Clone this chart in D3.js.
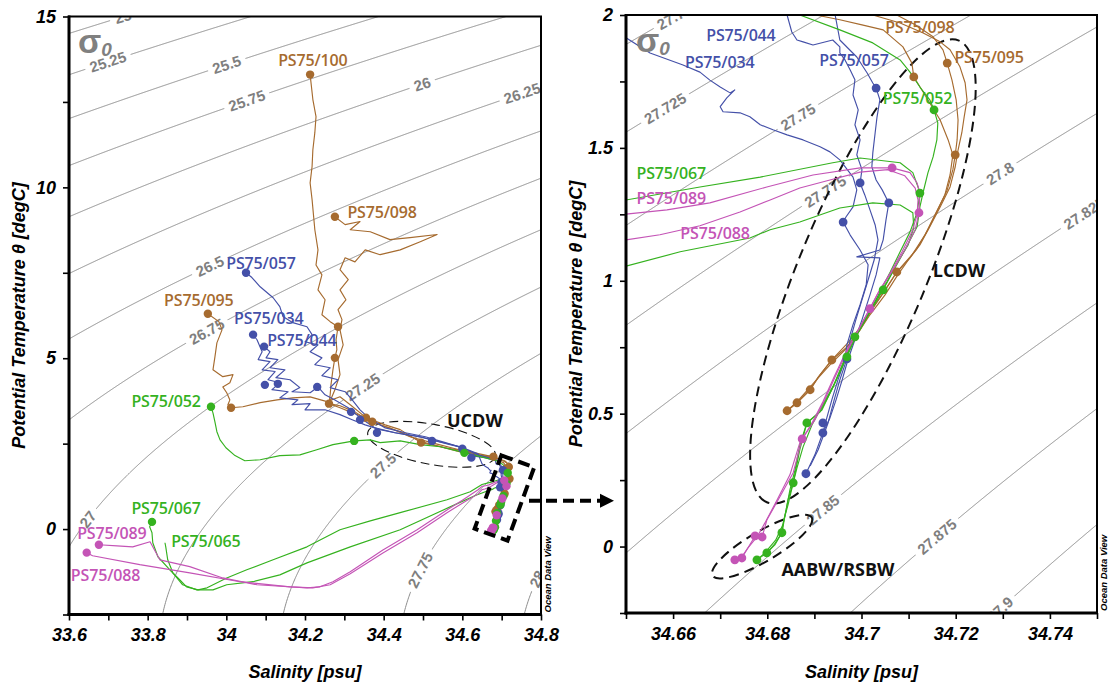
<!DOCTYPE html>
<html>
<head>
<meta charset="utf-8">
<script src="https://cdn.jsdelivr.net/npm/d3@7"></script>
<style>
  body { margin: 0; background: #fff; }
  svg { display: block; }
</style>
</head>
<body>
<svg id="chart" width="1109" height="686"></svg>
<script>
// ---------------------------------------------------------------
// Potential temperature / salinity profiles, PS75 stations
// Each profile is [salinity (psu), potential temperature (degC)]
// ---------------------------------------------------------------

// Station PS75/100
const ctd100 = [[34.213,13.30],[34.220,12.57],[34.228,12.07],[34.225,11.60],[34.220,11.10],[34.218,10.61],[34.213,10.13],[34.218,9.64],[34.225,8.76],[34.233,8.17],[34.228,7.73],[34.243,7.44],[34.233,7.00],[34.251,6.71],[34.243,6.27],[34.264,6.07],[34.284,5.92],[34.279,5.54],[34.281,5.25],[34.276,5.01],[34.271,4.66],[34.266,4.22],[34.264,3.93],[34.261,3.67],[34.289,3.55],[34.315,3.43],[34.355,3.26],[34.404,3.05],[34.442,2.91],[34.495,2.53],[34.544,2.41],[34.595,2.26],[34.646,2.15],[34.679,2.12],[34.696,2.03],
  [34.7024,2.000],[34.7082,1.970],[34.7131,1.932],[34.7167,1.899],[34.7188,1.869],[34.7209,1.805],[34.7220,1.745],[34.7224,1.681],[34.7218,1.617],[34.7213,1.557],[34.7205,1.492],[34.7199,1.429],[34.7188,1.353],[34.7167,1.278],[34.7145,1.203],[34.7124,1.135],[34.7103,1.086],[34.7075,1.033],[34.7050,0.966],[34.7022,0.891],[34.6997,0.815],[34.6967,0.747],[34.6937,0.702],[34.6912,0.646],[34.6891,0.590],[34.6863,0.541],[34.6842,0.511]];
const btl100 = [[34.213,13.30],[34.284,5.92],[34.276,5.01],[34.371,3.14],[34.679,2.12],[34.7075,1.033],[34.6891,0.590],[34.6842,0.511]];

// Station PS75/098
const ctd098 = [[34.276,9.14],[34.302,8.91],[34.340,9.00],[34.315,8.76],[34.366,8.70],[34.416,8.47],[34.467,8.53],[34.536,8.62],[34.493,8.41],[34.442,8.17],[34.391,8.03],[34.353,8.17],[34.327,7.82],[34.302,7.94],[34.289,7.59],[34.310,7.30],[34.289,7.00],[34.304,6.71],[34.284,6.42],[34.294,6.13],[34.289,5.83],[34.297,5.39],[34.284,4.95],[34.289,4.52],[34.276,4.08],[34.261,3.67],[34.289,3.61],[34.327,3.43],[34.366,3.14],[34.416,2.96],[34.467,2.70],[34.531,2.50],[34.582,2.35],[34.633,2.20],[34.671,2.09],
  [34.6903,2.000],[34.6954,1.982],[34.7001,1.963],[34.7046,1.944],[34.7088,1.880],[34.7107,1.819],[34.7111,1.767],[34.7124,1.730],[34.7145,1.669],[34.7167,1.605],[34.7184,1.530],[34.7194,1.474],[34.7188,1.398],[34.7177,1.323],[34.7156,1.248],[34.7135,1.173],[34.7107,1.097],[34.7077,1.022],[34.7050,0.947],[34.7018,0.872],[34.6990,0.797],[34.6965,0.740],[34.6933,0.684],[34.6908,0.635],[34.6886,0.590],[34.6863,0.544],[34.6842,0.511]];
const btl098 = [[34.276,9.14],[34.261,3.67],[34.495,2.53],[34.7111,1.767],[34.6937,0.702],[34.6863,0.541]];

// Station PS75/095
const ctd095 = [[33.953,6.30],[33.981,6.07],[33.989,5.83],[33.976,5.45],[33.971,5.04],[33.966,4.66],[33.991,4.46],[34.017,4.52],[34.009,4.28],[33.991,4.16],[34.001,3.99],[34.009,3.78],[34.004,3.64],[34.012,3.55],[34.042,3.58],[34.086,3.70],[34.129,3.78],[34.169,3.84],[34.213,3.87],[34.256,3.73],[34.289,3.87],[34.315,3.64],[34.355,3.26],[34.391,3.05],[34.442,2.85],[34.495,2.56],[34.556,2.38],[34.620,2.26],[34.676,2.12],
  [34.7075,2.000],[34.7114,1.963],[34.7152,1.918],[34.7173,1.869],[34.7182,1.819],[34.7192,1.756],[34.7201,1.681],[34.7205,1.605],[34.7203,1.530],[34.7199,1.474],[34.7194,1.418],[34.7182,1.342],[34.7162,1.267],[34.7141,1.192],[34.7116,1.116],[34.7092,1.067],[34.7075,1.033],[34.7048,0.958],[34.7018,0.883],[34.6993,0.815],[34.6971,0.766],[34.6937,0.702],[34.6908,0.638],[34.6891,0.590],[34.6863,0.541],[34.6842,0.511]];
const btl095 = [[33.953,6.30],[34.012,3.55],[34.355,3.26],[34.7182,1.819],[34.7199,1.474]];

// Station PS75/057
const ctd057 = [[34.050,7.50],[34.065,7.36],[34.086,7.09],[34.119,6.77],[34.136,6.51],[34.144,6.22],[34.169,6.04],[34.205,5.92],[34.218,5.69],[34.200,5.48],[34.233,5.39],[34.213,5.19],[34.243,5.01],[34.225,4.81],[34.264,4.72],[34.243,4.49],[34.284,4.37],[34.264,4.14],[34.302,4.02],[34.320,3.78],[34.340,3.49],[34.361,3.26],[34.404,2.96],[34.455,2.82],[34.506,2.70],[34.557,2.53],[34.600,2.38],[34.640,2.17],
  [34.6944,2.000],[34.6954,1.906],[34.6990,1.842],[34.7012,1.782],[34.7024,1.744],[34.7031,1.725],[34.7039,1.681],[34.7033,1.617],[34.7029,1.557],[34.7024,1.481],[34.7022,1.429],[34.7031,1.379],[34.7044,1.342],[34.7058,1.293],[34.7052,1.229],[34.7046,1.154],[34.7039,1.116],[34.6990,1.090],[34.7039,1.086],[34.7031,1.022],[34.7018,0.947],[34.7001,0.853],[34.6986,0.778],[34.6971,0.702],[34.6959,0.627],[34.6946,0.552],[34.6933,0.484],[34.6918,0.428]];
const btl057 = [[34.050,7.50],[34.131,4.25],[34.340,3.20],[34.523,2.58],[34.623,2.09],[34.7031,1.725],[34.7058,1.293],[34.6918,0.428]];

// Station PS75/034
const ctd034 = [[34.068,5.69],[34.078,5.54],[34.091,5.19],[34.081,4.96],[34.111,4.90],[34.091,4.66],[34.124,4.61],[34.106,4.37],[34.136,4.28],[34.116,4.08],[34.157,4.02],[34.136,3.84],[34.182,3.78],[34.167,3.64],[34.213,3.67],[34.200,3.49],[34.251,3.49],[34.289,3.35],[34.320,3.20],[34.353,3.05],[34.391,2.91],[34.442,2.79],[34.493,2.70],[34.544,2.55],[34.595,2.41],[34.640,2.20],
  [34.6500,1.914],[34.6551,1.857],[34.6621,1.812],[34.6657,1.785],[34.6678,1.755],[34.6700,1.729],[34.6721,1.707],[34.6731,1.718],[34.6714,1.688],[34.6700,1.655],[34.6706,1.636],[34.6742,1.632],[34.6763,1.617],[34.6785,1.587],[34.6812,1.568],[34.6842,1.549],[34.6876,1.530],[34.6912,1.504],[34.6933,1.485],[34.6954,1.455],[34.6982,1.390],[34.6990,1.342],[34.6982,1.278],[34.6967,1.240],[34.6961,1.221],[34.6976,1.172],[34.6997,1.116],[34.7014,1.060],[34.7010,0.985],[34.6997,0.910],[34.6982,0.835],[34.6969,0.759],[34.6965,0.702],[34.6950,0.627],[34.6937,0.552],[34.6925,0.476],[34.6918,0.428],[34.6901,0.345],[34.6882,0.274]];
const btl034 = [[34.068,5.69],[34.098,4.22],[34.317,3.43],[34.383,2.82],[34.600,2.35],[34.6961,1.221],[34.6882,0.274]];

// Station PS75/044
const ctd044 = [[34.096,5.34],[34.111,5.19],[34.101,5.01],[34.131,4.96],[34.111,4.72],[34.149,4.66],[34.126,4.43],[34.162,4.37],[34.187,4.14],[34.167,4.02],[34.213,3.99],[34.233,4.16],[34.251,3.93],[34.276,3.78],[34.310,3.55],[34.340,3.26],[34.378,2.96],[34.429,2.82],[34.480,2.73],[34.523,2.61],[34.569,2.47],[34.600,2.38],[34.625,2.14],[34.658,2.09],
  [34.6842,2.000],[34.6852,1.936],[34.6863,1.906],[34.6876,1.899],[34.6897,1.887],[34.6939,1.906],[34.6954,1.880],[34.6954,1.857],[34.6965,1.831],[34.6976,1.793],[34.6986,1.756],[34.6982,1.699],[34.6993,1.643],[34.6986,1.587],[34.6997,1.530],[34.6990,1.474],[34.7001,1.418],[34.6997,1.368],[34.7007,1.323],[34.7018,1.267],[34.7029,1.210],[34.7035,1.154],[34.7027,1.079],[34.7014,1.003],[34.7001,0.928],[34.6988,0.853],[34.6976,0.778],[34.6969,0.706],[34.6954,0.627],[34.6942,0.552],[34.6929,0.465],[34.6908,0.364],[34.6891,0.303]];
const btl044 = [[34.096,5.34],[34.231,4.16],[34.6997,1.368],[34.6969,0.706],[34.6918,0.465]];

// Station PS75/052
const ctd052 = [[33.961,3.58],[33.966,3.40],[33.971,3.14],[33.976,2.85],[33.984,2.61],[33.999,2.38],[34.022,2.15],[34.047,2.00],[34.086,2.03],[34.136,2.15],[34.187,2.17],[34.230,2.32],[34.271,2.47],[34.325,2.58],[34.366,2.61],[34.391,2.53],[34.442,2.58],[34.493,2.47],[34.544,2.41],[34.587,2.29],[34.605,2.23],[34.646,2.12],
  [34.6869,2.000],[34.6954,1.944],[34.7024,1.895],[34.7082,1.831],[34.7103,1.785],[34.7124,1.729],[34.7145,1.681],[34.7154,1.643],[34.7162,1.594],[34.7160,1.530],[34.7152,1.466],[34.7141,1.406],[34.7131,1.334],[34.7124,1.278],[34.7118,1.203],[34.7092,1.116],[34.7071,1.048],[34.7046,0.966],[34.7018,0.883],[34.6988,0.789],[34.6969,0.714],[34.6944,0.617],[34.6916,0.514],[34.6884,0.465],[34.6869,0.364],[34.6855,0.240],[34.6844,0.157],[34.6835,0.100],[34.6831,0.052],[34.6814,0.006],[34.6799,-0.024],[34.6778,-0.050]];
const btl052 = [[33.961,3.58],[34.325,2.58],[34.605,2.23],[34.7154,1.643],[34.7046,0.966],[34.6969,0.714],[34.6831,0.052]];

// Station PS75/067
const ctd067 = [[33.811,0.21],[33.805,0.07],[33.811,-0.11],[33.813,-0.40],[33.826,-0.81],[33.856,-1.19],[33.882,-1.49],[33.899,-1.69],[33.928,-1.78],[33.951,-1.72],[34.001,-1.43],[34.052,-1.19],[34.119,-0.90],[34.205,-0.52],[34.289,-0.02],[34.366,0.24],[34.442,0.48],[34.561,0.86],[34.620,1.09],
  [34.6500,1.304],[34.6657,1.353],[34.6785,1.390],[34.6939,1.444],[34.6997,1.462],[34.7082,1.444],[34.7109,1.407],[34.7120,1.353],[34.7124,1.330],[34.7118,1.256],[34.7103,1.184],[34.7082,1.109],[34.7061,1.033],[34.7039,0.958],[34.7014,0.872],[34.6986,0.789],[34.6965,0.702],[34.6944,0.617],[34.6918,0.534],[34.6895,0.458],[34.6876,0.375],[34.6863,0.296],[34.6855,0.240],[34.6844,0.176],[34.6838,0.120],[34.6831,0.052],[34.6816,0.006],[34.6799,-0.024]];
const btl067 = [[33.811,0.21],[34.7124,1.330],[34.6986,0.789],[34.6855,0.240],[34.6799,-0.024]];

// Station PS75/065
const ctd065 = [[33.844,-0.40],[33.846,-0.52],[33.851,-0.90],[33.864,-1.28],[33.889,-1.63],[33.925,-1.78],[33.966,-1.78],[34.001,-1.63],[34.068,-1.54],[34.136,-1.34],[34.205,-0.99],[34.315,-0.52],[34.442,-0.02],[34.569,0.65],[34.633,0.98],
  [34.6500,1.055],[34.6615,1.109],[34.6763,1.161],[34.6806,1.192],[34.6869,1.221],[34.6954,1.274],[34.7024,1.293],[34.7082,1.285],[34.7109,1.256],[34.7111,1.199],[34.7099,1.135],[34.7077,1.071],[34.7054,0.996],[34.7029,0.921],[34.7003,0.846],[34.6980,0.770],[34.6959,0.684],[34.6937,0.590],[34.6912,0.507],[34.6884,0.465],[34.6869,0.382],[34.6859,0.289],[34.6848,0.213],[34.6840,0.138],[34.6833,0.082],[34.6818,0.025],[34.6795,-0.024],[34.6778,-0.050]];
const btl065 = [[34.6884,0.465],[34.6778,-0.050]];

// Station PS75/089
const ctd089 = [[33.676,-0.46],[33.722,-0.49],[33.762,-0.52],[33.806,-0.37],[33.831,-0.90],[33.907,-1.10],[33.991,-1.43],[34.078,-1.63],[34.205,-1.72],[34.238,-1.69],[34.271,-1.54],[34.315,-1.25],[34.398,-0.61],[34.485,-0.02],[34.561,0.56],[34.602,0.86],[34.640,1.15],
  [34.6500,1.251],[34.6587,1.267],[34.6678,1.293],[34.6799,1.353],[34.6897,1.398],[34.6997,1.425],[34.7065,1.425],[34.7103,1.407],[34.7118,1.368],[34.7124,1.330],[34.7122,1.256],[34.7114,1.192],[34.7092,1.116],[34.7067,1.041],[34.7039,0.966],[34.7018,0.895],[34.6997,0.827],[34.6971,0.740],[34.6946,0.646],[34.6922,0.552],[34.6901,0.476],[34.6874,0.405],[34.6855,0.278],[34.6827,0.188],[34.6799,0.100],[34.6789,0.036],[34.6774,0.040],[34.6746,-0.043],[34.6731,-0.050]];
const btl089 = [[33.676,-0.46],[34.7065,1.425],[34.7018,0.895],[34.6789,0.036],[34.6746,-0.043]];

// Station PS75/088
const ctd088 = [[33.645,-0.69],[33.660,-0.78],[33.780,-1.04],[33.907,-1.28],[34.035,-1.54],[34.162,-1.69],[34.220,-1.72],[34.264,-1.63],[34.315,-1.31],[34.398,-0.70],[34.485,-0.11],[34.561,0.48],[34.602,0.77],[34.640,1.03],
  [34.6500,1.154],[34.6572,1.173],[34.6657,1.207],[34.6742,1.259],[34.6806,1.304],[34.6869,1.349],[34.6933,1.379],[34.6997,1.409],[34.7056,1.418],[34.7092,1.395],[34.7114,1.349],[34.7120,1.304],[34.7118,1.248],[34.7107,1.184],[34.7086,1.109],[34.7061,1.029],[34.7035,0.954],[34.7014,0.883],[34.6993,0.815],[34.6967,0.733],[34.6942,0.639],[34.6918,0.545],[34.6895,0.465],[34.6869,0.390],[34.6848,0.270],[34.6821,0.176],[34.6795,0.089],[34.6778,0.036],[34.6759,-0.005],[34.6744,-0.043]];
const btl088 = [[33.645,-0.69],[34.7122,1.256],[34.6874,0.405],[34.6774,0.040],[34.6731,-0.050]];

// Station names and label anchors [S, theta] in each panel
const stationNames = ["PS75/100","PS75/098","PS75/095","PS75/057","PS75/034","PS75/044","PS75/052","PS75/067","PS75/065","PS75/089","PS75/088"];
const stationGroups = ["brown","brown","brown","blue","blue","blue","green","green","green","magenta","magenta"];
const wideLabelPos = [[34.220,13.73],[34.396,9.26],[33.930,6.71],[34.088,7.79],[34.108,6.17],[34.192,5.52],[33.847,3.73],[33.847,0.62],[33.948,-0.37],[33.709,-0.11],[33.693,-1.34]];
const zoomLabelPos = [null,[34.7124,1.955],[34.7271,1.842],[34.6984,1.831],[34.6699,1.824],[34.6744,1.925],[34.7119,1.688],[34.6596,1.406],null,[34.6596,1.312],[34.6689,1.180]];

// Isopycnal levels (sigma-0) and where along salinity their labels sit
const sigmaLevelsWide = [24.75,25,25.25,25.5,25.75,26,26.25,26.5,26.75,27,27.25,27.5,27.75,28,28.25];
const sigmaLabelsWide = [[25,33.737],[25.25,33.699],[25.5,34.001],[25.75,34.052],[26,34.498],[26.25,34.752],[26.5,33.958],[26.75,33.950],[27,33.648],[27.25,34.347],[27.5,34.398],[27.75,34.493],[28,34.790]];
const sigmaLevelsZoom = [27.675,27.7,27.725,27.75,27.775,27.8,27.825,27.85,27.875,27.9,27.925];
const sigmaLabelsZoom = [[27.7,34.6595],[27.725,34.6583],[27.75,34.6865],[27.775,34.6923],[27.8,34.7294],[27.825,34.7473],[27.85,34.6918],[27.875,34.7160],[27.9,34.7294]];

// Axis ticks and tick labels
const wideSalTicks = [33.6,33.7,33.8,33.9,34.0,34.1,34.2,34.3,34.4,34.5,34.6,34.7,34.8];
const wideSalLabels = ["33.6","","33.8","","34","","34.2","","34.4","","34.6","","34.8"];
const wideTempTicks = [-2.5,0,2.5,5,7.5,10,12.5,15];
const wideTempLabels = ["","0","","5","","10","","15"];
const zoomSalTicks = [34.65,34.66,34.67,34.68,34.69,34.70,34.71,34.72,34.73,34.74,34.75];
const zoomSalLabels = ["","34.66","","34.68","","34.7","","34.72","","34.74",""];
const zoomTempTicks = [-0.25,0,0.25,0.5,0.75,1,1.25,1.5,1.75,2];
const zoomTempLabels = ["","0","","0.5","","1","","1.5","","2"];

// Water mass annotations [S, theta]
const ucdwCenter = [34.522, 2.48];
const ucdwLabel = [34.632, 3.17];
const boxCenter = [34.707, 0.91];
const lcdwCenter = [34.7003, 1.035];
const lcdwLabel = [34.7207, 1.039];
const aabwCenter = [34.6789, 0.0];
const aabwLabel = [34.6950, -0.088];

// ---------------------------------------------------------------
const ctds = [ctd100, ctd098, ctd095, ctd057, ctd034, ctd044, ctd052, ctd067, ctd065, ctd089, ctd088];
const btls = [btl100, btl098, btl095, btl057, btl034, btl044, btl052, btl067, btl065, btl089, btl088];
const palette = { brown: "#a66b2f", blue: "#4450a8", green: "#35b21f", magenta: "#c454b6" };

// Density of seawater at the surface (UNESCO EOS-80), minus 1000
function sigma0(S, T) {
  const T2 = T * T, T3 = T2 * T, T4 = T3 * T, T5 = T4 * T;
  const rw = 999.842594 + 6.793952e-2 * T - 9.095290e-3 * T2 + 1.001685e-4 * T3 - 1.120083e-6 * T4 + 6.536332e-9 * T5;
  const A = 0.824493 - 4.0899e-3 * T + 7.6438e-5 * T2 - 8.2467e-7 * T3 + 5.3875e-9 * T4;
  const B = -5.72466e-3 + 1.0227e-4 * T - 1.6546e-6 * T2;
  return rw + A * S + B * S * Math.sqrt(S) + 4.8314e-4 * S * S - 1000;
}
// Temperature on an isopycnal at a given salinity (bisection)
function solveT(S, level) {
  let lo = -3.5, hi = 35;
  if (sigma0(S, lo) < level || sigma0(S, hi) > level) return null;
  for (let i = 0; i < 60; i++) {
    const mid = (lo + hi) / 2;
    if (sigma0(S, mid) > level) lo = mid; else hi = mid;
  }
  return (lo + hi) / 2;
}

const svg = d3.select("#chart");
const defs = svg.append("defs");
const tickFont = "'Liberation Sans', Arial, sans-serif";

const panels = [
  { id: "wide", left: 69, right: 541, top: 16.5, bottom: 614.5,
    sDomain: [33.6, 34.8], tDomain: [-2.5, 15],
    levels: sigmaLevelsWide, labels: sigmaLabelsWide,
    sTicks: wideSalTicks, sLabels: wideSalLabels, tTicks: wideTempTicks, tLabels: wideTempLabels,
    labelPos: wideLabelPos, dotR: 4.2, sigmaAt: [78, 53] },
  { id: "zoom", left: 626, right: 1097, top: 15, bottom: 613,
    sDomain: [34.65, 34.75], tDomain: [-0.25, 2],
    levels: sigmaLevelsZoom, labels: sigmaLabelsZoom,
    sTicks: zoomSalTicks, sLabels: zoomSalLabels, tTicks: zoomTempTicks, tLabels: zoomTempLabels,
    labelPos: zoomLabelPos, dotR: 4.4, sigmaAt: [636, 52] }
];

panels.forEach(p => {
  const x = d3.scaleLinear().domain(p.sDomain).range([p.left, p.right]);
  const y = d3.scaleLinear().domain(p.tDomain).range([p.bottom, p.top]);
  p.x = x; p.y = y;
  const clipId = "clip-" + p.id;
  defs.append("clipPath").attr("id", clipId).append("rect")
    .attr("x", p.left).attr("y", p.top).attr("width", p.right - p.left).attr("height", p.bottom - p.top);

  const g = svg.append("g");
  const plot = g.append("g").attr("clip-path", `url(#${clipId})`);

  // isopycnals
  const isoLine = d3.line().defined(d => d[1] !== null).x(d => x(d[0])).y(d => y(d[1]));
  p.levels.forEach(level => {
    const pts = [];
    for (let px = p.left - 2; px <= p.right + 2; px += 0.5) {
      const S = x.invert(px);
      pts.push([S, solveT(S, level)]);
    }
    plot.append("path").attr("d", isoLine(pts))
      .attr("fill", "none").attr("stroke", "#8c8c8c").attr("stroke-width", 1);
  });

  // isopycnal labels, set along the line
  const dS = (p.sDomain[1] - p.sDomain[0]) * 0.004;
  p.labels.forEach(([level, S]) => {
    const T = solveT(S, level);
    const a = [x(S - dS), y(solveT(S - dS, level))];
    const b = [x(S + dS), y(solveT(S + dS, level))];
    const ang = Math.atan2(b[1] - a[1], b[0] - a[0]) * 180 / Math.PI;
    const lg = plot.append("g").attr("transform", `translate(${x(S)},${y(T)}) rotate(${ang})`);
    const bg = lg.append("rect").attr("fill", "#fff");
    const t = lg.append("text").text(String(level))
      .attr("text-anchor", "middle").attr("dy", "0.36em")
      .attr("font-family", tickFont).attr("font-weight", "bold")
      .attr("font-size", 15).attr("fill", "#7f7f7f");
    const w = t.node().getComputedTextLength();
    bg.attr("x", -w / 2 - 5).attr("y", -8).attr("width", w + 10).attr("height", 16);
  });

  // sigma-0 symbol
  const sg = g.append("text").attr("x", p.sigmaAt[0]).attr("y", p.sigmaAt[1])
    .attr("font-family", tickFont).attr("font-weight", "bold").attr("fill", "#808080");
  sg.append("tspan").attr("font-size", 34).text("σ");
  sg.append("tspan").attr("font-size", 19).attr("font-style", "italic").attr("dy", 3).text("0");

  // water mass outlines drawn beneath the profiles
  if (p.id === "wide") {
    plot.append("ellipse")
      .attr("transform", `translate(${x(ucdwCenter[0])},${y(ucdwCenter[1])}) rotate(10.5)`)
      .attr("rx", 65).attr("ry", 20)
      .attr("fill", "none").attr("stroke", "#111").attr("stroke-width", 1.1).attr("stroke-dasharray", "9,5");
  } else {
    plot.append("ellipse")
      .attr("transform", `translate(${x(lcdwCenter[0])},${y(lcdwCenter[1])}) rotate(112.6)`)
      .attr("rx", 250).attr("ry", 64)
      .attr("fill", "none").attr("stroke", "#111").attr("stroke-width", 2).attr("stroke-dasharray", "10,6");
    plot.append("ellipse")
      .attr("transform", `translate(${x(aabwCenter[0])},${y(aabwCenter[1])}) rotate(-30.4)`)
      .attr("rx", 57.5).attr("ry", 15)
      .attr("fill", "none").attr("stroke", "#111").attr("stroke-width", 2).attr("stroke-dasharray", "10,6");
  }

  // CTD profiles
  const profLine = d3.line().x(d => x(d[0])).y(d => y(d[1])).curve(d3.curveLinear);
  ctds.forEach((c, i) => {
    plot.append("path").attr("d", profLine(c))
      .attr("fill", "none").attr("stroke", palette[stationGroups[i]])
      .attr("stroke-width", 1.15).attr("stroke-linejoin", "round");
  });
  // bottle samples
  btls.forEach((b, i) => {
    plot.selectAll(null).data(b).enter().append("circle")
      .attr("cx", d => x(d[0])).attr("cy", d => y(d[1])).attr("r", p.dotR)
      .attr("fill", palette[stationGroups[i]]);
  });

  // station labels
  p.labelPos.forEach((pos, i) => {
    if (!pos) return;
    plot.append("text").attr("x", x(pos[0])).attr("y", y(pos[1]))
      .attr("text-anchor", "middle").attr("dy", "0.36em")
      .attr("font-family", "'Open Sans', sans-serif").attr("font-weight", 600)
      .attr("font-size", 16).attr("letter-spacing", "-0.15")
      .attr("fill", palette[stationGroups[i]]).text(stationNames[i]);
  });

  // water mass names and the deep-water box
  const massText = (pos, txt) => plot.append("text").attr("x", x(pos[0])).attr("y", y(pos[1]))
    .attr("text-anchor", "middle").attr("dy", "0.36em")
    .attr("font-family", "'Open Sans', sans-serif").attr("font-weight", 700).attr("font-size", 18)
    .attr("fill", "#111").text(txt);
  if (p.id === "wide") {
    massText(ucdwLabel, "UCDW");
    g.append("rect")
      .attr("transform", `translate(${x(boxCenter[0])},${y(boxCenter[1])}) rotate(20)`)
      .attr("x", -17.5).attr("y", -39).attr("width", 35).attr("height", 78)
      .attr("fill", "none").attr("stroke", "#000").attr("stroke-width", 4).attr("stroke-dasharray", "12,6");
  } else {
    massText(lcdwLabel, "LCDW");
    massText(aabwLabel, "AABW/RSBW");
  }

  // frame and axes
  g.append("rect").attr("x", p.left).attr("y", p.top)
    .attr("width", p.right - p.left).attr("height", p.bottom - p.top)
    .attr("fill", "none").attr("stroke", "#000").attr("stroke-width", 2);
  g.append("line").attr("x1", p.left).attr("x2", p.left).attr("y1", p.top - 1).attr("y2", p.bottom + 1.5)
    .attr("stroke", "#000").attr("stroke-width", 3);
  g.append("line").attr("x1", p.left - 1.5).attr("x2", p.right + 1).attr("y1", p.bottom).attr("y2", p.bottom)
    .attr("stroke", "#000").attr("stroke-width", 3);

  const xa = g.append("g").attr("transform", `translate(0,${p.bottom})`)
    .call(d3.axisBottom(x).tickValues(p.sTicks).tickFormat((d, i) => p.sLabels[i])
      .tickSize(6).tickPadding(8).tickSizeOuter(0));
  const ya = g.append("g").attr("transform", `translate(${p.left},0)`)
    .call(d3.axisLeft(y).tickValues(p.tTicks).tickFormat((d, i) => p.tLabels[i])
      .tickSize(6).tickPadding(7).tickSizeOuter(0));
  [xa, ya].forEach(a => {
    a.select(".domain").remove();
    a.selectAll(".tick line").attr("stroke", "#000").attr("stroke-width", 1.6);
    a.selectAll(".tick text").attr("fill", "#000")
      .attr("font-family", tickFont).attr("font-weight", "bold").attr("font-style", "italic")
      .attr("font-size", 18);
  });

  // axis titles
  const cx = (p.left + p.right) / 2, cy = (p.top + p.bottom) / 2;
  g.append("text").attr("x", cx).attr("y", 678).attr("text-anchor", "middle")
    .attr("font-family", tickFont).attr("font-weight", "bold").attr("font-style", "italic")
    .attr("font-size", 18).text("Salinity [psu]");
  g.append("text").attr("transform", `translate(${p.left - 44},${cy}) rotate(-90)`)
    .attr("text-anchor", "middle")
    .attr("font-family", tickFont).attr("font-weight", "bold").attr("font-style", "italic")
    .attr("font-size", 18).text("Potential Temperature θ [degC]");

  // software credit
  g.append("text").attr("transform", `translate(${p.right + 10},${p.bottom - 2}) rotate(-90)`)
    .attr("font-family", tickFont).attr("font-weight", "bold").attr("font-style", "italic")
    .attr("font-size", 9.5).text("Ocean Data View");
});

// arrow from the deep-water box to the detailed panel
{
  const pw = panels[0], pz = panels[1];
  const ay = pw.y(0.83);
  const x0 = pw.right - 12, x1 = pz.left - 24;
  svg.append("line").attr("x1", x0).attr("x2", x1).attr("y1", ay).attr("y2", ay)
    .attr("stroke", "#000").attr("stroke-width", 4).attr("stroke-dasharray", "11,6");
  svg.append("path").attr("d", `M${x1 - 2},${ay - 7} L${x1 + 12},${ay} L${x1 - 2},${ay + 7} Z`).attr("fill", "#000");
}
</script>
</body>
</html>
